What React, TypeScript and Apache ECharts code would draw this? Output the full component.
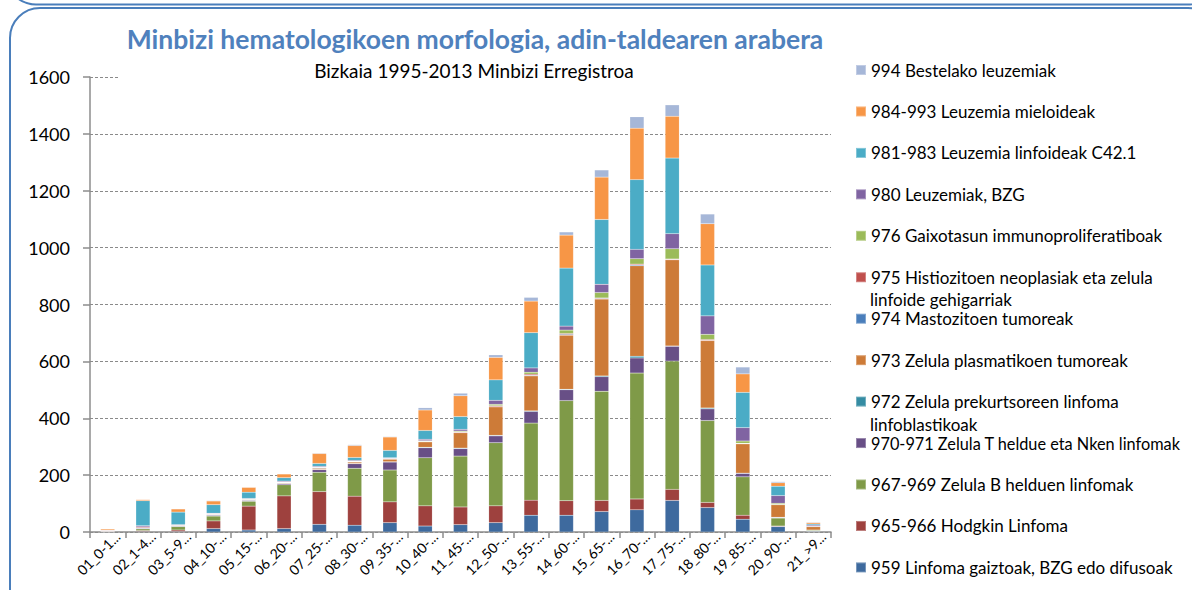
import React, { useEffect, useRef } from "react";
import * as echarts from "echarts";

const categories = [
  "01_0-1...", "02_1-4...", "03_5-9...", "04_10-...", "05_15-...", "06_20-...", "07_25-...",
  "08_30-...", "09_35-...", "10_40-...", "11_45-...", "12_50-...", "13_55-...", "14_60-...",
  "15_65-...", "16_70-...", "17_75-...", "18_80-...", "19_85-...", "20_90-...", "21_>9...",
];

const yTicks = [0, 200, 400, 600, 800, 1000, 1200, 1400, 1600];

const s959 = [0, 2, 2, 12, 7, 12, 27, 24, 33, 21, 26, 33, 59, 59, 72, 78, 111, 86, 45, 19, 2];
const s965 = [2, 3, 5, 27, 84, 115, 115, 102, 73, 71, 62, 59, 53, 51, 39, 38, 39, 18, 14, 2, 1];
const s967 = [1, 6, 12, 17, 17, 39, 68, 98, 112, 169, 179, 222, 271, 352, 384, 443, 451, 288, 135, 28, 3];
const s970 = [0, 2, 2, 3, 3, 4, 9, 16, 28, 35, 26, 24, 41, 38, 51, 53, 52, 41, 12, 2, 1];
const s972 = [0, 2, 1, 1, 1, 1, 1, 1, 1, 2, 2, 2, 2, 2, 3, 6, 1, 3, 1, 1, 0];
const s973 = [0, 0, 0, 2, 2, 2, 4, 5, 9, 19, 54, 100, 123, 190, 270, 318, 303, 237, 103, 44, 12];
const s974 = [0, 0, 0, 0, 0, 1, 2, 1, 1, 1, 1, 1, 2, 3, 2, 3, 1, 1, 1, 0, 0];
const s975 = [2, 3, 2, 1, 1, 1, 1, 1, 1, 1, 2, 3, 4, 3, 2, 3, 2, 3, 1, 1, 0];
const s976 = [0, 0, 0, 1, 1, 1, 1, 1, 1, 2, 3, 5, 7, 12, 19, 19, 36, 18, 8, 4, 1];
const s980 = [1, 4, 2, 2, 2, 3, 3, 3, 2, 5, 6, 14, 15, 14, 29, 33, 53, 65, 47, 27, 4];
const s981 = [1, 88, 44, 30, 22, 12, 10, 10, 26, 31, 45, 72, 124, 204, 228, 245, 266, 179, 124, 33, 4];
const s984 = [4, 4, 11, 13, 17, 13, 35, 42, 47, 72, 73, 79, 111, 116, 149, 181, 147, 145, 65, 12, 5];
const s994 = [1, 1, 1, 2, 1, 1, 2, 3, 2, 8, 9, 9, 13, 11, 25, 40, 40, 34, 24, 4, 2];

// bottom-to-top stacking order
const seriesNames = [
  "959 Linfoma gaiztoak, BZG edo difusoak",
  "965-966 Hodgkin Linfoma",
  "967-969 Zelula B helduen linfomak",
  "970-971 Zelula T heldue eta Nken linfomak",
  "972 Zelula prekurtsoreen linfoma linfoblastikoak",
  "973 Zelula plasmatikoen tumoreak",
  "974 Mastozitoen tumoreak",
  "975 Histiozitoen neoplasiak eta zelula linfoide gehigarriak",
  "976 Gaixotasun immunoproliferatiboak",
  "980 Leuzemiak, BZG",
  "981-983 Leuzemia linfoideak C42.1",
  "984-993 Leuzemia mieloideak",
  "994 Bestelako leuzemiak",
];
const seriesValues = [s959, s965, s967, s970, s972, s973, s974, s975, s976, s980, s981, s984, s994];
const seriesColors = [
  "#3E6A9E", "#9E413E", "#7F9A48", "#684F86", "#358CA3", "#CD7B38", "#4A7EBB",
  "#C0504D", "#9BBB59", "#8064A2", "#4BACC6", "#F79646", "#A6B7D8",
];

// legend lines that wrap: [first line, second line]
const legendWraps: Record<string, [string, string]> = {
  "975 Histiozitoen neoplasiak eta zelula linfoide gehigarriak": [
    "975 Histiozitoen neoplasiak eta zelula",
    "linfoide gehigarriak",
  ],
  "972 Zelula prekurtsoreen linfoma linfoblastikoak": [
    "972 Zelula prekurtsoreen linfoma",
    "linfoblastikoak",
  ],
};

const FONT = "Lato";
const LEGEND_FS = 17;

export default function App() {
  const ref = useRef<HTMLDivElement>(null);

  useEffect(() => {
    document.body.style.margin = "0";
    if (!ref.current) return;
    const chart = echarts.init(ref.current, undefined, { renderer: "svg" });

    const legendOrder = [...seriesNames].reverse();
    const LH = 18;
    const extraTexts: any[] = [];
    const legends = legendOrder.map((name, i) => {
      const cy = 70 + i * 41.45;
      const wrap = legendWraps[name];
      const fs = name.startsWith("970-971") ? 16.3 : LEGEND_FS;
      if (wrap) {
        extraTexts.push({
          type: "text",
          silent: true,
          x: 870,
          y: cy + 22.5,
          style: {
            text: wrap[1],
            fontFamily: FONT,
            fontSize: LEGEND_FS,
            lineHeight: LH,
            fill: "#000",
            verticalAlign: "middle",
            align: "left",
          },
        });
      }
      return {
        show: true,
        orient: "vertical",
        left: 855,
        top: cy - LH / 2,
        padding: 0,
        itemWidth: 10,
        itemHeight: 10,
        icon: "rect",
        selectedMode: false,
        data: [name],
        formatter: (n: string) => (legendWraps[n] ? legendWraps[n][0] : n),
        textStyle: { fontFamily: FONT, fontSize: fs, color: "#000", lineHeight: LH },
      };
    });

    const option: any = {
      animation: false,
      textStyle: { fontFamily: FONT },
      title: [
        {
          text: "Minbizi hematologikoen morfologia, adin-taldearen arabera",
          left: 475,
          top: 25,
          z: 10,
          textAlign: "center",
          padding: 0,
          textStyle: { fontFamily: FONT, fontSize: 26.5, fontWeight: "bold", color: "#4F81BD" },
        },
        {
          text: "Bizkaia 1995-2013 Minbizi Erregistroa",
          left: 474,
          top: 61,
          z: 10,
          textAlign: "center",
          padding: 0,
          textStyle: { fontFamily: FONT, fontSize: 19, fontWeight: "normal", color: "#000" },
        },
      ],
      legend: legends,
      graphic: [
        {
          type: "rect",
          silent: true,
          z: 5,
          shape: { x: 118, y: 20, width: 716, height: 60 },
          style: { fill: "#fff", stroke: "none" },
        },
        {
          type: "rect",
          silent: true,
          shape: { x: 6, y: -300, width: 1212, height: 304.5, r: 30 },
          style: { fill: "none", stroke: "#4A7EBB", lineWidth: 2 },
        },
        {
          type: "rect",
          silent: true,
          shape: { x: 10, y: 8, width: 1208, height: 700, r: 30 },
          style: { fill: "none", stroke: "#4A7EBB", lineWidth: 2 },
        },
        ...extraTexts,
      ],
      grid: { left: 90, right: 361, top: 77, bottom: 58, containLabel: false },
      xAxis: {
        type: "category",
        data: categories,
        axisLine: { show: true, lineStyle: { color: "#8C8C8C", width: 1.5 } },
        axisTick: { show: true, length: 6, lineStyle: { color: "#8C8C8C", width: 1.5 } },
        axisLabel: {
          rotate: 45,
          interval: 0,
          margin: 12,
          padding: [0, -14, 0, 0],
          fontFamily: FONT,
          fontSize: 14,
          color: "#000",
        },
      },
      yAxis: {
        type: "value",
        min: yTicks[0],
        max: yTicks[yTicks.length - 1],
        interval: 200,
        axisLine: { show: true, lineStyle: { color: "#8C8C8C", width: 1.5 } },
        axisTick: { show: true, length: 7, lineStyle: { color: "#8C8C8C", width: 1.5 } },
        axisLabel: {
          margin: 20,
          fontFamily: FONT,
          fontSize: 18,
          color: "#000",
          formatter: (v: number) => String(v),
        },
        splitLine: { show: true, lineStyle: { color: "#8A8A8A", type: [3, 2], width: 1 } },
      },
      series: seriesNames.map((name, i) => ({
        name,
        type: "bar",
        stack: "total",
        barWidth: "40%",
        data: seriesValues[i],
        itemStyle: { color: seriesColors[i], borderColor: "rgba(255,255,255,0.3)", borderWidth: 0.4 },
      })),
    };

    chart.setOption(option);
    return () => chart.dispose();
  }, []);

  return (
    <div
      ref={ref}
      style={{ position: "fixed", left: 0, top: 0, width: 1192, height: 590, background: "#fff" }}
    />
  );
}
